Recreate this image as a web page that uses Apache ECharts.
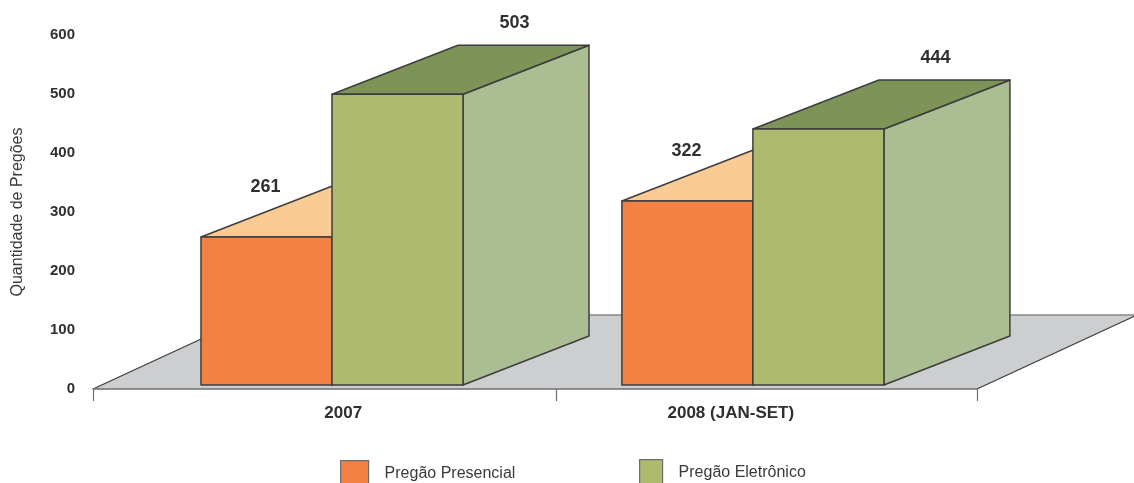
<!DOCTYPE html>
<html>
<head>
<meta charset="utf-8">
<style>html,body{margin:0;padding:0;background:#fff;overflow:hidden}#chart{width:1134px;height:483px}</style>
<script src="https://cdn.jsdelivr.net/npm/echarts@6/dist/echarts.min.js"></script>
</head>
<body>
<div id="chart"></div>
<script>
// Pregões per year, by modality
const categories = ['2007', '2008 (JAN-SET)'];
const presencial = [261, 322];
const eletronico = [503, 444];
const yTicks = [0, 100, 200, 300, 400, 500, 600];
const seriesNames = ['Pregão Presencial', 'Pregão Eletrônico'];

// Layout of the pseudo-3D scene, in x-axis units and pixels
const FONT = '"Liberation Sans", sans-serif';
const BAND_CENTER = [0.5407, 1.493];
const BAR_WIDTH = 0.2964;
const TICK_POS = [0, 1.0475, 2];
const LABEL_POS = [0.566, 1.443];
const GREEN_DEPTH = { x: 126, y: -49 };
const ORANGE_DEPTH = { x: 134, y: -52 };
const FLOOR_DEPTH = { x: 160, y: -74 };
const OUTLINE = '#3d3d3d';

function box(slot, colors, d, labelOffset) {
  return function (params, api) {
    const i = api.value(0);
    const v = api.value(1);
    const c = BAND_CENTER[i] + slot * BAR_WIDTH / 2;
    const left = api.coord([c - BAR_WIDTH / 2, 0])[0];
    const right = api.coord([c + BAR_WIDTH / 2, 0])[0];
    const bottom = api.coord([0, 0])[1] - 4;
    const top = api.coord([0, v])[1] + 2;
    const stroke = { stroke: OUTLINE, lineWidth: 1.5, lineJoin: 'round' };
    const poly = (points, fill) => ({
      type: 'polygon',
      shape: { points },
      style: Object.assign({ fill }, stroke)
    });
    return {
      type: 'group',
      children: [
        poly([[right, top], [right + d.x, top + d.y], [right + d.x, bottom + d.y], [right, bottom]], colors.side),
        poly([[left, top], [left + d.x, top + d.y], [right + d.x, top + d.y], [right, top]], colors.top),
        poly([[left, top], [right, top], [right, bottom], [left, bottom]], colors.front),
        {
          type: 'text',
          style: {
            text: String(v),
            x: (left + right) / 2 + labelOffset.x,
            y: top + labelOffset.y,
            align: 'center',
            verticalAlign: 'middle',
            font: 'bold 18px ' + FONT,
            fill: '#2f2f2f'
          }
        }
      ]
    };
  };
}

function floor(params, api) {
  const a = api.coord([0, 0]);
  const b = api.coord([2, 0]);
  const f = FLOOR_DEPTH;
  const al = [a[0] + f.x, a[1] + f.y];
  const bl = [b[0] + f.x, b[1] + f.y];
  const edge = (p, q, color) => ({
    type: 'line',
    shape: { x1: p[0], y1: p[1], x2: q[0], y2: q[1] },
    style: { stroke: color, lineWidth: 1.3 }
  });
  return {
    type: 'group',
    children: [
      { type: 'polygon', shape: { points: [a, b, bl, al] }, style: { fill: '#cdced0' } },
      edge(al, bl, '#85878a'),
      edge(a, al, OUTLINE),
      edge(b, bl, OUTLINE)
    ]
  };
}

const chart = echarts.init(document.getElementById('chart'), null, { renderer: 'canvas' });
chart.setOption({
  animation: false,
  backgroundColor: '#fff',
  grid: { left: 93, right: 157, top: 35, bottom: 94, containLabel: false, outerBoundsMode: 'none' },
  xAxis: {
    type: 'value',
    min: 0,
    max: 2,
    z: 5,
    splitLine: { show: false },
    axisLine: { show: true, lineStyle: { color: '#6d6f72', width: 1.5 } },
    axisTick: { show: true, customValues: TICK_POS, length: 12, lineStyle: { color: '#6d6f72', width: 1.2 } },
    axisLabel: {
      show: true,
      customValues: LABEL_POS,
      margin: 16,
      color: '#2f2f2f',
      fontFamily: FONT,
      fontWeight: 'bold',
      fontSize: 17,
      formatter: (v) => categories[LABEL_POS.indexOf(v)]
    }
  },
  yAxis: {
    type: 'value',
    min: yTicks[0],
    max: yTicks[yTicks.length - 1],
    interval: yTicks[1] - yTicks[0],
    name: 'Quantidade de Pregões',
    nameLocation: 'middle',
    nameRotate: 90,
    nameGap: 67,
    nameTextStyle: { color: '#3a3a3a', fontFamily: FONT, fontSize: 16 },
    splitLine: { show: false },
    axisLine: { show: false },
    axisTick: { show: false },
    axisLabel: {
      margin: 18,
      color: '#2f2f2f',
      fontFamily: FONT,
      fontWeight: 'bold',
      fontSize: 15
    }
  },
  legend: [
    {
      data: [seriesNames[0]], left: 340, top: 460, padding: 0, itemWidth: 28, itemHeight: 26, itemGap: 0,
      icon: 'rect', selectedMode: false, formatter: (n) => n,
      itemStyle: { borderColor: '#6d6d6d', borderWidth: 1.2 },
      textStyle: { color: '#3a3a3a', fontFamily: FONT, fontSize: 16, padding: [3, 0, 0, 11] }
    },
    {
      data: [seriesNames[1]], left: 639, top: 459, padding: 0, itemWidth: 23, itemHeight: 26, itemGap: 0,
      icon: 'rect', selectedMode: false, formatter: (n) => n,
      itemStyle: { borderColor: '#6d6d6d', borderWidth: 1.2 },
      textStyle: { color: '#3a3a3a', fontFamily: FONT, fontSize: 16, padding: [3, 0, 0, 11] }
    }
  ],
  series: [
    {
      type: 'custom',
      name: 'floor',
      z: 1,
      silent: true,
      renderItem: floor,
      data: [[0, 0]],
      encode: { x: 0, y: 1 }
    },
    {
      type: 'custom',
      name: seriesNames[0],
      z: 2,
      itemStyle: { color: '#f48144' },
      renderItem: box(-1, { front: '#f48144', top: '#fbcb96', side: '#fbcb96' }, ORANGE_DEPTH, { x: -1, y: -50 }),
      data: presencial.map((v, i) => [i, v]),
      encode: { x: 0, y: 1 }
    },
    {
      type: 'custom',
      name: seriesNames[1],
      z: 3,
      itemStyle: { color: '#aeba6e' },
      renderItem: box(1, { front: '#aeba6e', top: '#7e9358', side: '#abbd92' }, GREEN_DEPTH, { x: 117, y: -71 }),
      data: eletronico.map((v, i) => [i, v]),
      encode: { x: 0, y: 1 }
    }
  ]
});
</script>
</body>
</html>
